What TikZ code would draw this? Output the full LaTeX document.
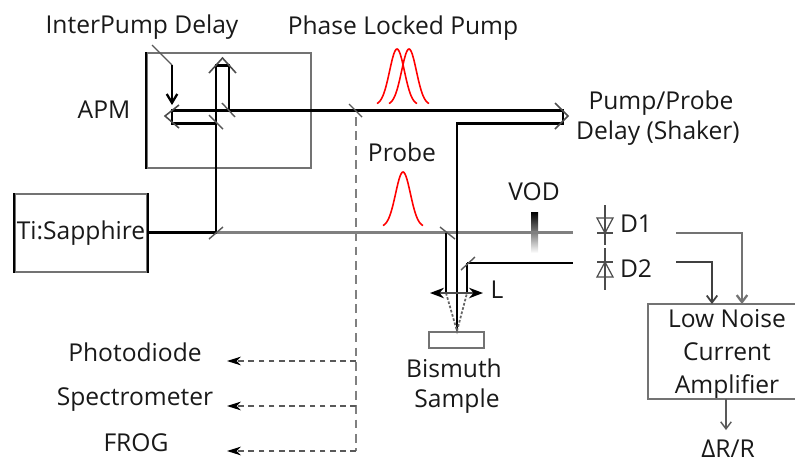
\documentclass[tikz,border=0pt]{standalone}
\usepackage{fontspec}
\setmainfont{Open Sans}
\usetikzlibrary{arrows.meta}
\tikzset{
   lbl/.style={font=\fontsize{14}{19}\selectfont, text=black!90, inner sep=0pt, align=center},
   beam/.style={line width=1.7pt, black},
   graybeam/.style={line width=2pt, black!50},
   thinbeam/.style={line width=1.1pt, black},
   boxline/.style={line width=1.1pt, black!55},
   darkline/.style={line width=1.3pt, black},
   mirror/.style={line width=0.8pt, black!65},
   chevron/.style={line width=0.9pt, black!70},
   split/.style={line width=1.2pt, black!50, dash pattern=on 5pt off 3.2pt},
   tap/.style={line width=0.7pt, black!65, dash pattern=on 3.2pt off 2.6pt, -{Stealth[length=8pt,width=5pt,black]}},
   signal/.style={line width=0.8pt, black!65, -{Straight Barb[length=4pt,width=6pt]}},
   pulse/.style={line width=0.9pt, red},
   diode/.style={line width=0.7pt, black!70},
}
\begin{document}
\begin{tikzpicture}[x=0.02cm, y=-0.02cm]%
   \useasboundingbox (0,0) rectangle (795,461);
   % boxes
   \node[draw=black!55, line width=1.1pt, minimum width=3.28cm, minimum height=2.3cm, inner sep=0pt] (apmbox) at (229,110.5) {};
   \draw[darkline] (apmbox.north west) -- (apmbox.south west);
   \node[lbl, draw=black!55, line width=1.1pt, minimum width=2.64cm, minimum height=1.56cm] (tisa) at (81,233) {Ti:Sapphire};
   \draw[darkline] (tisa.north west) -- (tisa.south west);
   \draw[darkline] (tisa.north east) -- (tisa.south east);
   \node[draw=black!55, line width=1.1pt, minimum width=1.1cm, minimum height=0.32cm, inner sep=0pt] (sample) at (456.5,340) {};
   \node[lbl] (amp) at (727,354.5) {Low Noise\\Current\\Amplifier};
   \coordinate (amptr) at (795,304);
   \coordinate (amptl) at (648,304);
   \coordinate (ampbl) at (648,399);
   \coordinate (ampbr) at (795,399);
   \draw[boxline] (amptr) -- (amptl) -- (ampbl) -- (ampbr);
   % vod filter
   \shade[top color=black, bottom color=white] (531,212) rectangle (538,253);
   % beam points
   \coordinate (first) at (216,232.5);
   \coordinate (retrotop) at (216,65);
   \coordinate (retroright) at (229,65);
   \coordinate (retrodown) at (229,110.5);
   \coordinate (pumpleft) at (172,110.5);
   \coordinate (pumpcorner) at (172,123);
   \coordinate (pumpjoin) at (216,123);
   \coordinate (shakerone) at (563,110.5);
   \coordinate (shakertwo) at (563,123);
   \coordinate (down) at (457,123);
   \coordinate (focus) at (457,331);
   \coordinate (probeend) at (573,232.5);
   \coordinate (probesplit) at (446,233);
   \coordinate (lensleft) at (446,293);
   \coordinate (lensright) at (467,293);
   \coordinate (back) at (467,263);
   \coordinate (backend) at (573,263);
   % beams
   \draw[graybeam] (first) -- (probeend);
   \draw[beam] (tisa.east |- first) -- (first) -- (retrotop) -- (retroright) -- (retrodown);
   \draw[beam] (pumpjoin) -- (pumpcorner) -- (pumpleft) -- (shakerone) -- (shakertwo) -- (down) -- (focus);
   \draw[beam] (probesplit) -- (lensleft);
   \draw[beam] (back) -- (lensright);
   \draw[thinbeam] (back) -- (backend);
   \draw[line width=1pt, black!60, dash pattern=on 1.5pt off 1pt] (lensleft) -- (focus) -- (lensright);
   % lens
   \coordinate (lensa) at (430,293);
   \coordinate (lensb) at (483,293);
   \draw[line width=0.9pt, black!70, {Stealth[length=8pt,width=6pt,black]}-{Stealth[length=8pt,width=6pt,black]}] (lensa) -- (lensb);
   % mirrors
   \draw[mirror] (152,45) -- (172,65);
   \draw[mirror] (222,103) -- (235,117);
   \draw[mirror] (209,115) -- (223,129);
   \draw[mirror] (209,239) -- (223,227);
   \draw[mirror] (349,104) -- (362,117);
   \draw[mirror] (440,227) -- (455,239);
   \draw[mirror] (461,270) -- (475,257);
   % retroreflectors
   \draw[chevron] (209,73) -- (222.5,58) -- (236,73);
   \draw[chevron] (179,105) -- (165,116) -- (179,128);
   \draw[chevron] (555,103) -- (568,116) -- (555,129);
   % interpump delay arrow
   \coordinate (delaytop) at (172,65);
   \coordinate (delayend) at (172,105);
   \draw[line width=1.3pt, black, -{Straight Barb[length=5pt,width=6pt]}] (delaytop) -- (delayend);
   % split off arm
   \coordinate (tapa) at (356,117);
   \coordinate (tapb) at (356,361);
   \coordinate (tapc) at (356,406);
   \coordinate (tapd) at (356,451);
   \coordinate (photoend) at (227,361);
   \coordinate (spectroend) at (227,406);
   \coordinate (frogend) at (227,451);
   \draw[split] (tapa) -- (tapd);
   \draw[tap] (tapb) -- (photoend);
   \draw[tap] (tapc) -- (spectroend);
   \draw[tap] (tapd) -- (frogend);
   % pulses
   \foreach \peak in {397,409}
      \draw[pulse, domain=-20:20, samples=41] plot ({\peak+\x}, {105-56*exp(-\x*\x/110)});
   \draw[pulse, domain=-20:20, samples=41] plot ({403+\x}, {227-55*exp(-\x*\x/110)});
   % diodes
   \draw[diode] (605,205) -- (605,245);
   \draw[diode] (597,218) -- (613,218) -- (605,233) -- cycle;
   \draw[diode] (597,233) -- (613,233);
   \draw[diode] (605,248) -- (605,290);
   \draw[diode] (597,277) -- (613,277) -- (605,262) -- cycle;
   \draw[diode] (597,262) -- (613,262);
   % signals
   \coordinate (doneout) at (676,233);
   \coordinate (dtwoout) at (676,262);
   \coordinate (donein) at (742,304);
   \coordinate (dtwoin) at (712,304);
   \coordinate (ampout) at (726,399);
   \coordinate (drin) at (726,430);
   \draw[signal, line width=1.3pt, black!55] (doneout) -| (donein);
   \draw[signal, line width=1pt, black!75] (dtwoout) -| (dtwoin);
   \draw[signal] (ampout) -- (drin);
   % labels
   \node[lbl] (interpump) at (142,27) {InterPump Delay};
   \node[lbl] (phaselock) at (403,28) {Phase Locked Pump};
   \node[lbl] (apm) at (104,110) {APM};
   \node[lbl] (pumpprobe) at (661,103) {Pump/Probe};
   \node[lbl] (shaker) at (658,133) {Delay (Shaker)};
   \node[lbl] (probe) at (402,152) {Probe};
   \node[lbl] (vod) at (534,192) {VOD};
   \node[lbl] (lens) at (497,290) {L};
   \node[lbl] (done) at (636,224) {D1};
   \node[lbl] (dtwo) at (636,269) {D2};
   \node[lbl] (bismuth) at (454,368) {Bismuth};
   \node[lbl] (samplelabel) at (457,401) {Sample};
   \node[lbl] (photo) at (135,352) {Photodiode};
   \node[lbl] (spectro) at (135,400) {Spectrometer};
   \node[lbl] (frog) at (136,443) {FROG};
   \node[lbl] (dr) at (728,449) {ΔR/R};
\end{tikzpicture}
\end{document}
